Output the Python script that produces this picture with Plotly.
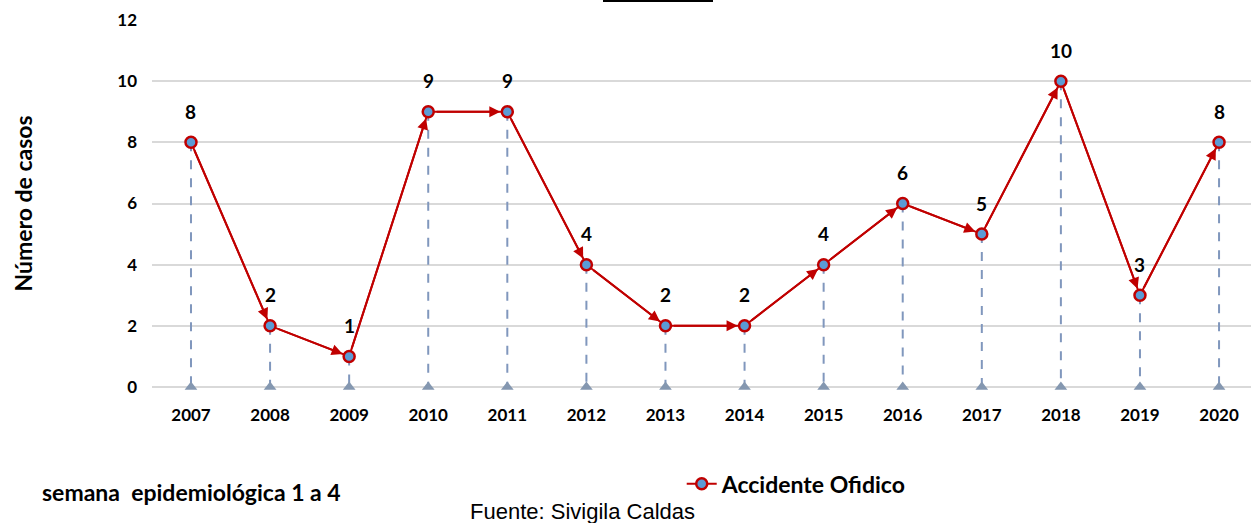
import plotly.graph_objects as go

years = ['2007', '2008', '2009', '2010', '2011', '2012', '2013',
         '2014', '2015', '2016', '2017', '2018', '2019', '2020']
casos = [8, 2, 1, 9, 9, 4, 2, 2, 4, 6, 5, 10, 3, 8]
y_ticks = [0, 2, 4, 6, 8, 10, 12]

RED = '#C00000'
BLUE = '#5B9BD5'
DROP = '#8097BD'
FONT = 'Lato'

fig = go.Figure()

# dashed drop lines down to the axis
drop_x, drop_y = [], []
for yr, v in zip(years, casos):
    drop_x += [yr, yr, None]
    drop_y += [v, 0, None]
fig.add_trace(go.Scatter(x=drop_x, y=drop_y, mode='lines',
                         line=dict(color=DROP, width=2, dash='dash'),
                         hoverinfo='skip', showlegend=False))
fig.add_trace(go.Scatter(x=years, y=[0] * len(years), mode='markers',
                         marker=dict(symbol='triangle-up', size=11, color='#8497B0'),
                         cliponaxis=False, hoverinfo='skip', showlegend=False))

# main series
fig.add_trace(go.Scatter(x=years, y=casos, mode='lines+markers',
                         name='<b>Accidente Ofidico</b>',
                         line=dict(color=RED, width=2),
                         marker=dict(size=11, color=BLUE,
                                     line=dict(color=RED, width=2.5)),
                         cliponaxis=False))

# arrowheads at end of each segment (category index positions)
for i in range(1, len(years)):
    fig.add_annotation(x=i, y=casos[i], ax=i - 1, ay=casos[i - 1],
                       xref='x', yref='y', axref='x', ayref='y',
                       showarrow=True, arrowhead=2, arrowsize=1.1, arrowwidth=2,
                       arrowcolor=RED, standoff=7, startstandoff=7, text='')

# data labels
for i, v in enumerate(casos):
    fig.add_annotation(x=i, y=v, xref='x', yref='y', text='<b>%d</b>' % v,
                       showarrow=False, yshift=31,
                       font=dict(family=FONT, size=19, color='black'))

fig.add_annotation(x=-0.102, y=-0.286, xref='paper', yref='paper',
                   xanchor='left', yanchor='middle', showarrow=False,
                   text='<b>semana  epidemiológica 1 a 4</b>',
                   font=dict(family=FONT, size=23, color='black'))
fig.add_annotation(x=(468 - 152) / 1099, y=-0.338, xref='paper', yref='paper',
                   xanchor='left', yanchor='middle', showarrow=False,
                   text='Fuente: Sivigila Caldas',
                   font=dict(family='Liberation Sans', size=22, color='black'))

fig.add_shape(type='line', xref='paper', yref='paper',
              x0=(603 - 152) / 1099, x1=(713 - 152) / 1099, y0=1.052, y1=1.052,
              line=dict(color='black', width=2))

fig.update_layout(
    width=1251, height=523,
    margin=dict(l=152, r=0, t=20, b=136),
    plot_bgcolor='white', paper_bgcolor='white',
    showlegend=True,
    legend=dict(x=0.482, y=-0.264, xanchor='left', yanchor='middle',
                orientation='h', font=dict(family=FONT, size=23, color='black'),
                itemwidth=30),
    xaxis=dict(type='category', range=[-0.493, 13.404], showgrid=False,
               zeroline=False, showline=False, ticks='', ticklabelstandoff=16,
               tickfont=dict(family=FONT, size=17, color='black'),
               tickvals=years, ticktext=['<b>%s</b>' % y for y in years]),
    yaxis=dict(range=[0, 12], tickvals=y_ticks,
               ticktext=['<b>%d</b>' % t for t in y_ticks],
               showgrid=True, gridcolor='#D9D9D9', gridwidth=1.5,
               zeroline=True, zerolinecolor='#D9D9D9', zerolinewidth=1.5,
               ticklabelstandoff=14,
               tickfont=dict(family=FONT, size=17, color='black'),
               title=dict(text='<b>Número de casos</b>', standoff=78,
                          font=dict(family=FONT, size=23, color='black'))),
)

fig.write_html('out.html', config={'displayModeBar': False},
               post_script="document.body.style.margin='0';")
